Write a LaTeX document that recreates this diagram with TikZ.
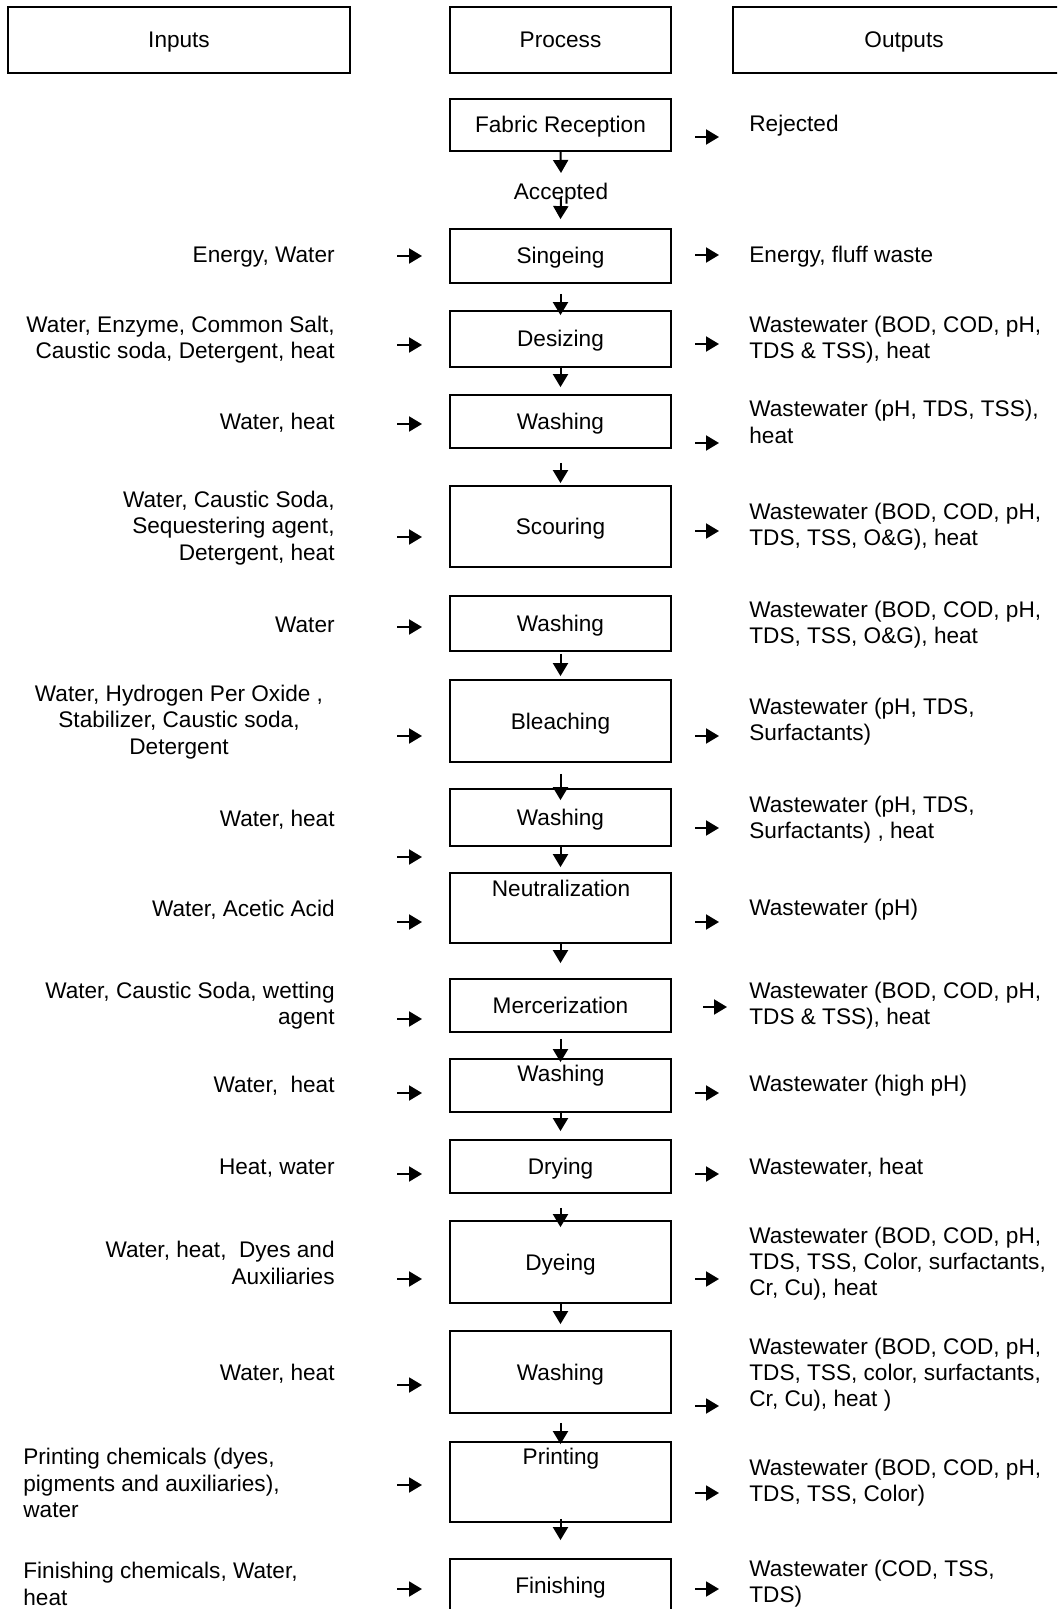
\documentclass[tikz,border=0pt]{standalone}
\usepackage{fontspec}
\setmainfont{Liberation Sans}
\usetikzlibrary{arrows.meta,calc}
\begin{document}
\begin{tikzpicture}[x=0.5pt,y=-0.5pt,
  every node/.style={font=\fontsize{11.3pt}{13.1pt}\selectfont, inner sep=0pt},
  boxtext/.style={text height=0.8em, text depth=0pt},
  hbox/.style={draw, line width=1pt, minimum width=171pt, minimum height=33pt, boxtext},
  pbox/.style={draw, line width=0.9pt, minimum width=110.5pt, minimum height=#1*0.5pt, boxtext},
  lbl/.style={boxtext},
  arr/.style={line width=1pt, -{Triangle[length=6.5pt,width=7.5pt]}},
  intxt/.style={anchor=east, align=right, yshift=-0.5pt},
  outtxt/.style={anchor=west, align=left, yshift=-0.5pt}]
\clip (0,0) rectangle (1057,1609);
\fill[white] (0,0) rectangle (1057,1609);
% headers
\node[hbox] (hIn) at (179,40) {Inputs};
\node[hbox, minimum width=110.5pt] (hPr) at (560.5,40) {Process};
\node[hbox] (hOut) at (904,40) {Outputs};
% process boxes
\node[pbox=52] (fab) at (560.5,125) {Fabric Reception};
\node[lbl] (acc) at (561,192) {Accepted};
\node[pbox=54] (sing) at (560.5,256) {Singeing};
\node[pbox=56] (desz) at (560.5,339) {Desizing};
\node[pbox=53] (wasA) at (560.5,421.5) {Washing};
\node[pbox=81] (scour) at (560.5,526.5) {Scouring};
\node[pbox=55] (wasB) at (560.5,623.5) {Washing};
\node[pbox=82] (bleach) at (560.5,721) {Bleaching};
\node[pbox=57] (wasC) at (560.5,817.5) {Washing};
\node[pbox=70] (neut) at (560.5,908) {};
\node[lbl] (neutT) at (561,888) {Neutralization};
\node[pbox=53] (merc) at (560.5,1005.5) {Mercerization};
\node[pbox=53] (wasD) at (560.5,1085.5) {};
\node[lbl] (wasDT) at (561,1073) {Washing};
\node[pbox=53] (dry) at (560.5,1166.5) {Drying};
\node[pbox=82] (dye) at (560.5,1262) {Dyeing};
\node[pbox=82] (wasE) at (560.5,1372) {Washing};
\node[pbox=80] (print) at (560.5,1482) {};
\node[lbl] (printT) at (561,1456) {Printing};
\node[pbox=52] (fin) at (560.5,1585) {Finishing};
% vertical arrows
\draw[arr] (fab.south) -- ($(acc.center)+(0,-19)$);
\draw[arr] ($(acc.center)+(0,5)$) -- ($(sing.north)+(0,-9)$);
\draw[arr] ($(sing.south)+(0,10)$) -- ($(desz.north)+(0,5)$);
\draw[arr] ($(desz.south)+(0,-2)$) -- ($(wasA.north)+(0,-7)$);
\draw[arr] ($(wasA.south)+(0,14)$) -- ($(scour.north)+(0,-2)$);
\draw[arr] ($(wasB.south)+(0,2)$) -- ($(bleach.north)+(0,-3)$);
\draw[arr] ($(bleach.south)+(0,11)$) -- ($(wasC.north)+(0,12)$);
\draw[arr] (wasC.south) -- ($(neut.north)+(0,-5)$);
\draw[arr] ($(neut.south)+(0,-1)$) -- ($(merc.north)+(0,-15)$);
\draw[arr] ($(merc.south)+(0,6)$) -- ($(wasD.north)+(0,4)$);
\draw[arr] ($(wasD.south)+(0,-2)$) -- ($(dry.north)+(0,-8)$);
\draw[arr] ($(dry.south)+(0,14)$) -- ($(dye.north)+(0,7)$);
\draw[arr] (dye.south) -- ($(wasE.north)+(0,-6)$);
\draw[arr] ($(wasE.south)+(0,9)$) -- ($(print.north)+(0,3)$);
\draw[arr] ($(print.south)+(0,-4)$) -- ($(fin.north)+(0,-18)$);
% input arrows
\foreach \n/\y in {a/256,b/345,c/424,d/537,e/627,f/736,g/857,h/922,i/1019,j/1093,k/1174,l/1279,m/1385,n/1485,o/1589}{
  \coordinate (li\n) at (397,\y);
  \coordinate (le\n) at (422,\y);
  \draw[arr] (li\n) -- (le\n);
}
% output arrows
\foreach \n/\y/\x in {a/137/695,b/255/695,c/344/695,d/443/695,e/531/695,f/736/695,g/828/695,h/922/695,i/1007/703,j/1093/695,k/1174/695,l/1279/695,m/1406/695,n/1493/695,o/1589/695}{
  \coordinate (ri\n) at (\x,\y);
  \coordinate (re\n) at (\x+24,\y);
  \draw[arr] (ri\n) -- (re\n);
}
% inputs text
\node[intxt] (tiA) at (335,256) {Energy, Water};
\node[intxt] (tiB) at (335,338.5) {Water, Enzyme, Common Salt,\\Caustic soda, Detergent, heat};
\node[intxt] (tiC) at (335,422) {Water, heat};
\node[intxt] (tiD) at (335,527) {Water, Caustic Soda,\\Sequestering agent,\\Detergent, heat};
\node[intxt] (tiE) at (335,624) {Water};
\node[align=center, yshift=-0.5pt] (tiF) at (179,721) {Water, Hydrogen Per Oxide ,\\Stabilizer, Caustic soda,\\Detergent};
\node[intxt] (tiG) at (335,819) {Water, heat};
\node[intxt] (tiH) at (335,909) {Water, Acetic Acid};
\node[intxt] (tiI) at (335,1005) {Water, Caustic Soda, wetting\\agent};
\node[intxt] (tiJ) at (335,1085) {Water,~~heat};
\node[intxt] (tiK) at (335,1167) {Heat, water};
\node[intxt] (tiL) at (335,1262) {Water, heat,~~Dyes and\\Auxiliaries};
\node[intxt] (tiM) at (335,1373) {Water, heat};
\node[anchor=west, align=left, yshift=-0.5pt] (tiN) at (23,1482) {Printing chemicals (dyes,\\pigments and auxiliaries),\\water};
\node[anchor=west, align=left] (tiO) at (23,1584) {Finishing chemicals, Water,\\heat};
% outputs text
\node[outtxt] (toA) at (749,125) {Rejected};
\node[outtxt] (toB) at (749,256) {Energy, fluff waste};
\node[outtxt] (toC) at (749,338.5) {Wastewater (BOD, COD, pH,\\TDS \& TSS), heat};
\node[outtxt] (toD) at (749,421) {Wastewater (pH, TDS, TSS),\\heat};
\node[outtxt] (toE) at (749,526) {Wastewater (BOD, COD, pH,\\TDS, TSS, O\&G), heat};
\node[outtxt] (toF) at (749,623.5) {Wastewater (BOD, COD, pH,\\TDS, TSS, O\&G), heat};
\node[outtxt] (toG) at (749,720.5) {Wastewater (pH, TDS,\\Surfactants)};
\node[outtxt] (toH) at (749,818.5) {Wastewater (pH, TDS,\\Surfactants) , heat};
\node[outtxt] (toI) at (749,909) {Wastewater (pH)};
\node[outtxt] (toJ) at (749,1005) {Wastewater (BOD, COD, pH,\\TDS \& TSS), heat};
\node[outtxt] (toK) at (749,1085) {Wastewater (high pH)};
\node[outtxt] (toL) at (749,1167) {Wastewater, heat};
\node[outtxt] (toM) at (749,1262.5) {Wastewater (BOD, COD, pH,\\TDS, TSS, Color, surfactants,\\Cr, Cu), heat};
\node[outtxt] (toN) at (749,1373.5) {Wastewater (BOD, COD, pH,\\TDS, TSS, color, surfactants,\\Cr, Cu), heat )};
\node[outtxt] (toO) at (749,1482) {Wastewater (BOD, COD, pH,\\TDS, TSS, Color)};
\node[anchor=west, align=left] (toP) at (749,1584) {Wastewater (COD, TSS,\\TDS)};
\end{tikzpicture}
\end{document}
